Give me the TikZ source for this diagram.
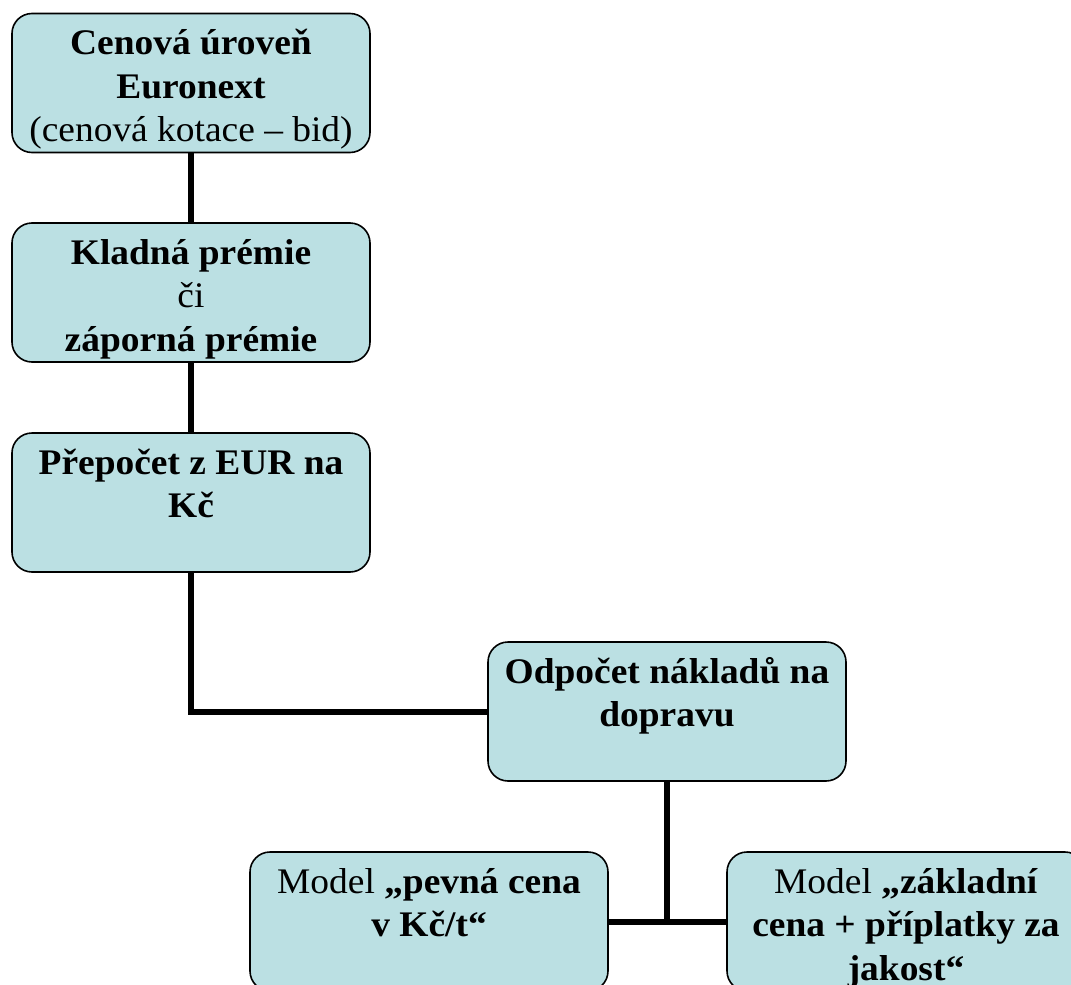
\documentclass[tikz,border=0pt]{standalone}
\usepackage{fontspec}
\setmainfont[FakeStretch=1.04]{Liberation Serif}
\definecolor{boxfill}{RGB}{187,224,227}
\pgfdeclarelayer{back}
\pgfsetlayers{back,main}
\begin{document}
\begin{tikzpicture}[x=1pt,y=-1pt,
  stagebox/.style={draw=black,line width=1.6pt,fill=boxfill,rounded corners=20pt,
    minimum width=358pt,minimum height=139pt,inner sep=0pt},
  stagetext/.style={anchor=north,align=center,inner sep=0pt,
    font=\fontsize{36}{43.5}\selectfont},
  link/.style={line width=6pt}]
\useasboundingbox (0,0) rectangle (1071,985);
\clip (0,0) rectangle (1071,985);
\node[stagebox] (b1) at (191,83) {};
\node[stagebox] (b2) at (191,292.5) {};
\node[stagebox] (b3) at (191,502.5) {};
\node[stagebox] (b4) at (667,711.5) {};
\node[stagebox] (b5) at (429,921.5) {};
\node[stagebox] (b6) at (906,921.5) {};
\coordinate (j) at (b4.south |- b5.east);
\begin{pgfonlayer}{back}
\draw[link] (b1.south) -- (b2.north);
\draw[link] (b2.south) -- (b3.north);
\draw[link] (b3.south) |- (b4.west);
\draw[link] (b4.south) -- (j);
\draw[link] (b5.east) -- (b6.west);
\end{pgfonlayer}
\node[stagetext] (t1) at ([yshift=-10pt]b1.north) {\rule{0pt}{32pt}\textbf{Cenová úroveň}\\\textbf{Euronext}\\(cenová kotace – bid)};
\node[stagetext] (t2) at ([yshift=-10pt]b2.north) {\rule{0pt}{32pt}\textbf{Kladná prémie}\\či\\\textbf{záporná prémie}};
\node[stagetext] (t3) at ([yshift=-10pt]b3.north) {\rule{0pt}{32pt}\textbf{Přepočet z EUR na}\\\textbf{Kč}};
\node[stagetext] (t4) at ([yshift=-10pt]b4.north) {\rule{0pt}{32pt}\textbf{Odpočet nákladů na}\\\textbf{dopravu}};
\node[stagetext] (t5) at ([yshift=-10pt]b5.north) {\rule{0pt}{32pt}Model \textbf{„pevná cena}\\\textbf{v Kč/t“}};
\node[stagetext] (t6) at ([yshift=-10pt]b6.north) {\rule{0pt}{32pt}Model \textbf{„základní}\\\textbf{cena + příplatky za}\\\textbf{jakost“}};
\end{tikzpicture}
\end{document}
